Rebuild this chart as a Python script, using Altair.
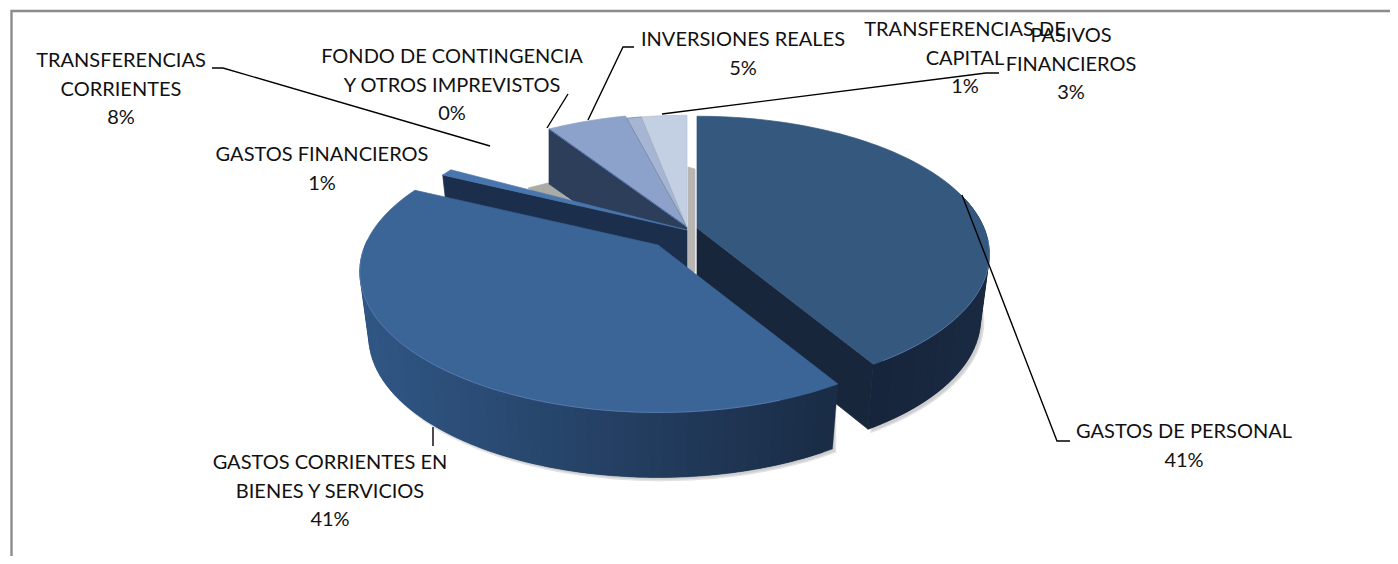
import math
import altair as alt

names = [["GASTOS DE PERSONAL"], ["GASTOS CORRIENTES EN", "BIENES Y SERVICIOS"], ["GASTOS FINANCIEROS"],
         ["TRANSFERENCIAS", "CORRIENTES"], ["FONDO DE CONTINGENCIA", "Y OTROS IMPREVISTOS"],
         ["INVERSIONES REALES"], ["TRANSFERENCIAS DE", "CAPITAL"], ["PASIVOS", "FINANCIEROS"]]
values = [41.4, 40.8, 0.8, 7.8, 0, 5.2, 1, 3]
top_colors = ["#35587F", "#3B6497", "#4A76AE", "#FFFFFF", "#4A6A9E", "#8CA2CB", "#A5B5D3", "#C3CFE3"]
top_strokes = ["#35587F", "#3B6497", "#4A76AE", "#FFFFFF", "#4A6A9E", "#8CA2CB", "#6F7C90", "#B9C1CE"]
apex_x = [697, 658, 687, 687, 687, 687, 687, 687]
apex_y = [228, 245, 230, 227, 227, 227, 227, 227]
radius_scale = [1.0, 1.02, 1.025, 1, 1.02, 1.02, 1, 1]
label_x = [1184, 330, 322, 121, 452, 743, 965, 1071]
label_y = [432, 463, 155, 61, 57, 40, 30, 36]
leaders = [[(962, 195), (1057, 441), (1070, 441)], [(433, 427), (433, 446)], [(212, 68), (223, 68), (490, 146)],
           [(568, 94), (547, 128)], [(634, 47), (623, 47), (588, 120)], [(999, 73), (986, 73), (662, 114)]]

AX, BY, K, DEPTH, BOTTOM = 287, 133, 0.19, 65, 0.97
W, H, LINE = 1382, 548, 28.7

cum = [0]
for v in values:
    cum.append(cum[-1] + v)
ang = [c * 3.6 for c in cum]


def pt(t, i, down=0.0, shrink=1.0):
    r = math.radians(t)
    u, w = math.sin(r), -math.cos(r)
    f = radius_scale[i] / (1 - K * w)
    return [apex_x[i] + AX * u * f * shrink, apex_y[i] + down + BY * w * f]


def arc(a, b, i, down=0.0, shrink=1.0, n=None):
    n = n or max(2, int(abs(b - a) / 1.5) + 1)
    return [pt(a + (b - a) * j / (n - 1), i, down, shrink) for j in range(n)]


def poly(coords, fill, stroke=None, sw=0.7):
    return {"type": "Feature", "geometry": {"type": "Polygon", "coordinates": [coords + [coords[0]]]},
            "properties": {"fill": fill, "stroke": stroke or fill, "sw": sw}}


def mix(c1, c2, t):
    a = [int(c1[k:k + 2], 16) for k in (1, 3, 5)]
    b = [int(c2[k:k + 2], 16) for k in (1, 3, 5)]
    return "#%02X%02X%02X" % tuple(round(x + (y - x) * t) for x, y in zip(a, b))


def top(i):
    return poly([[apex_x[i], apex_y[i]]] + arc(ang[i], ang[i + 1], i), top_colors[i], top_strokes[i])


def cut(i, t, fill, depth=DEPTH, shrink=BOTTOM):
    a = pt(t, i)
    return poly([[apex_x[i], apex_y[i]], a, pt(t, i, depth, shrink), [apex_x[i], apex_y[i] + depth]], fill)


def walls(i, a, b, c1, c2, x1, x2):
    up = arc(a, b, i, DEPTH * 0.5, BOTTOM)
    lo = arc(b, a, i, DEPTH + 3, BOTTOM)
    out = [poly([[p[0] + 3, p[1]] for p in up] + [[p[0] + 3, p[1]] for p in lo], "#CFCFCF", "#E2E2E2", 1.5)]
    n = max(1, int(abs(b - a) / 2))
    for j in range(n):
        s, e = a + (b - a) * j / n, a + (b - a) * min(n, j + 2) / n
        quad = arc(s, e, i, 0, 1, 4) + arc(e, s, i, DEPTH, BOTTOM, 4)
        t = min(1, max(0, (pt(s, i)[0] - x1) / (x2 - x1)))
        out.append(poly(quad, mix(c1, c2, t), sw=0.3))
    return out


shapes = [top(3), poly([[528, 188], [548, 183], [571, 201], [540, 197]], "#ABABA6")]
shapes.append(cut(5, ang[5], "#2C3E5A", 55, 1.0))
shapes += [top(5), top(4), top(6), top(7)]
shapes.append(cut(2, ang[2], "#1B2F4C"))
shapes.append(top(2))
shapes.append(poly([[688, 167], [695, 169], [695, 272], [688, 272]], "#B8B6B2"))
shapes += walls(0, 75, ang[1], "#1A2A42", "#16243A", 990, 870)
shapes.append(cut(0, ang[1], "#17263A"))
shapes.append(top(0))
shapes += walls(1, ang[1], 272, "#1A2C46", "#305684", 835, 370)
shapes.append(top(1))

rim = [{"type": "Feature", "geometry": {"type": "LineString", "coordinates": arc(160, 268, 1)}},
       {"type": "Feature", "geometry": {"type": "LineString", "coordinates": arc(95, 147, 0)}}]
lines = [{"type": "Feature", "geometry": {"type": "LineString", "coordinates": [list(p) for p in l]}} for l in leaders]

texts = []
for i, n in enumerate(names):
    rows = n + ["%d%%" % round(values[i])]
    for j, r in enumerate(rows):
        texts.append({"t": r, "lon": label_x[i], "lat": label_y[i] + j * LINE})

PROJ = dict(type="identity", scale=1, translate=[-8, -8])

frame = alt.Chart(alt.Data(values=[
    {"type": "Feature", "geometry": {"type": "LineString", "coordinates": [[11.5, 600], [11.5, 11], [1420, 11]]}}
])).mark_geoshape(filled=False, stroke="#8C8C8C", strokeWidth=2.4).project(**PROJ)

pie = alt.Chart(alt.Data(values=shapes)).mark_geoshape().encode(
    fill=alt.Fill("properties.fill:N", scale=None),
    stroke=alt.Stroke("properties.stroke:N", scale=None),
    strokeWidth=alt.StrokeWidth("properties.sw:Q", scale=None),
).project(**PROJ)

rims = alt.Chart(alt.Data(values=rim)).mark_geoshape(filled=False, stroke="#5F86B8", strokeWidth=0.9, strokeOpacity=0.7).project(**PROJ)
leader = alt.Chart(alt.Data(values=lines)).mark_geoshape(filled=False, stroke="#000000", strokeWidth=1.4).project(**PROJ)

labels = alt.Chart(alt.Data(values=texts)).mark_text(
    font="Lato", fontSize=20, color="#111111", align="center", baseline="middle"
).encode(longitude="lon:Q", latitude="lat:Q", text="t:N").project(**PROJ)

chart = alt.layer(frame, pie, rims, leader, labels).properties(
    width=W, height=H, padding=0, autosize=alt.AutoSizeParams(type="none"),
    background="#FFFFFF",
).configure_view(stroke=None)

chart.save("out.html", embed_options={"renderer": "svg", "actions": False})
